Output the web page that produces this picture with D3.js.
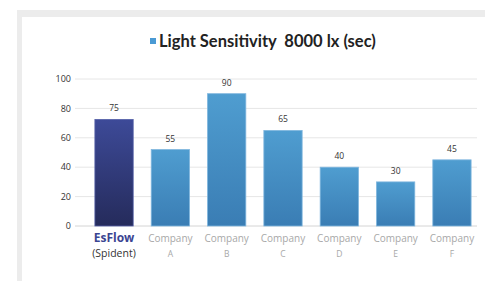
<!DOCTYPE html>
<html>
<head>
<meta charset="utf-8">
<script src="https://cdn.jsdelivr.net/npm/d3@7"></script>
<style>
  body { margin: 0; background: #fff; }
  svg { display: block; font-family: "Open Sans", Lato, sans-serif; }
</style>
</head>
<body>
<svg id="chart" width="485" height="281"></svg>
<script>
// chart data
const categories = ["EsFlow", "Company", "Company", "Company", "Company", "Company", "Company"];
const subLabels = ["(Spident)", "A", "B", "C", "D", "E", "F"];
const values = [72.5, 52, 90, 65, 40, 30, 45];
const valueLabels = ["75", "55", "90", "65", "40", "30", "45"];
const yTicks = [0, 20, 40, 60, 80, 100];
const seriesName = "Light Sensitivity  8000 lx (sec)";

const svg = d3.select("#chart");

// frame edges
svg.append("rect").attr("x", 17).attr("y", 10).attr("width", 468).attr("height", 7).attr("fill", "#ececec");
svg.append("rect").attr("x", 17).attr("y", 10).attr("width", 5).attr("height", 271).attr("fill", "#ececec");

const defs = svg.append("defs");
function grad(id, top, bottom) {
  const g = defs.append("linearGradient").attr("id", id)
    .attr("x1", 0).attr("y1", 0).attr("x2", 0).attr("y2", 1);
  g.append("stop").attr("offset", "0%").attr("stop-color", top);
  g.append("stop").attr("offset", "100%").attr("stop-color", bottom);
}
grad("gMain", "#3d4a98", "#252b5b");
grad("gOther", "#4f9dd0", "#3a7db4");

const x = d3.scaleBand()
  .domain(d3.range(categories.length))
  .range([78, 488])
  .paddingInner(0.32)
  .paddingOuter(0.3);

const y = d3.scaleLinear().domain([0, 100]).range([226, 79]);

// gridlines
svg.append("g")
  .selectAll("line")
  .data(yTicks)
  .join("line")
  .attr("x1", 75).attr("x2", 477)
  .attr("y1", d => y(d)).attr("y2", d => y(d))
  .attr("stroke", d => d === 0 ? "#d4d4d4" : "#e6e6e6")
  .attr("stroke-width", 1);

// y axis labels
svg.append("g")
  .selectAll("text")
  .data(yTicks)
  .join("text")
  .attr("x", 71)
  .attr("y", d => y(d))
  .attr("dy", "0.35em")
  .attr("text-anchor", "end")
  .attr("font-size", 9)
  .attr("fill", "#333")
  .text(d => d);

// bars
svg.append("g")
  .selectAll("rect")
  .data(values)
  .join("rect")
  .attr("x", (d, i) => x(i))
  .attr("y", d => y(d))
  .attr("width", x.bandwidth())
  .attr("height", d => y(0) - y(d))
  .attr("fill", (d, i) => i === 0 ? "url(#gMain)" : "url(#gOther)")
  .attr("stroke", (d, i) => i === 0 ? "#5560a8" : "#7fb6de")
  .attr("stroke-width", 0.8);

// value labels
svg.append("g")
  .selectAll("text")
  .data(values)
  .join("text")
  .attr("x", (d, i) => x(i) + x.bandwidth() / 2)
  .attr("y", d => y(d) - 8)
  .attr("text-anchor", "middle")
  .attr("font-size", 8.5)
  .attr("fill", "#333")
  .text((d, i) => valueLabels[i]);

// category labels
const cat = svg.append("g");
cat.selectAll("text.cat")
  .data(categories)
  .join("text")
  .attr("class", "cat")
  .attr("x", (d, i) => x(i) + x.bandwidth() / 2)
  .attr("y", 242)
  .attr("text-anchor", "middle")
  .attr("font-size", (d, i) => i === 0 ? 12 : 10)
  .attr("font-weight", (d, i) => i === 0 ? "bold" : "normal")
  .attr("fill", (d, i) => i === 0 ? "#3b4592" : "#a8a8a8")
  .text(d => d);

cat.selectAll("text.sub")
  .data(subLabels)
  .join("text")
  .attr("class", "sub")
  .attr("x", (d, i) => x(i) + x.bandwidth() / 2)
  .attr("y", 257)
  .attr("text-anchor", "middle")
  .attr("font-size", (d, i) => i === 0 ? 10.5 : 8.5)
  .attr("fill", (d, i) => i === 0 ? "#333" : "#a8a8a8")
  .text(d => d);

// legend / title
const leg = svg.append("g");
leg.append("rect")
  .attr("x", 150).attr("y", 38).attr("width", 6).attr("height", 6)
  .attr("fill", "#4a9ad4");
leg.append("text")
  .attr("x", 159).attr("y", 47)
  .attr("font-family", "Lato, sans-serif")
  .attr("font-size", 16.5)
  .attr("font-weight", "bold")
  .attr("fill", "#222")
  .attr("style", "white-space: pre")
  .text(seriesName);
</script>
</body>
</html>
